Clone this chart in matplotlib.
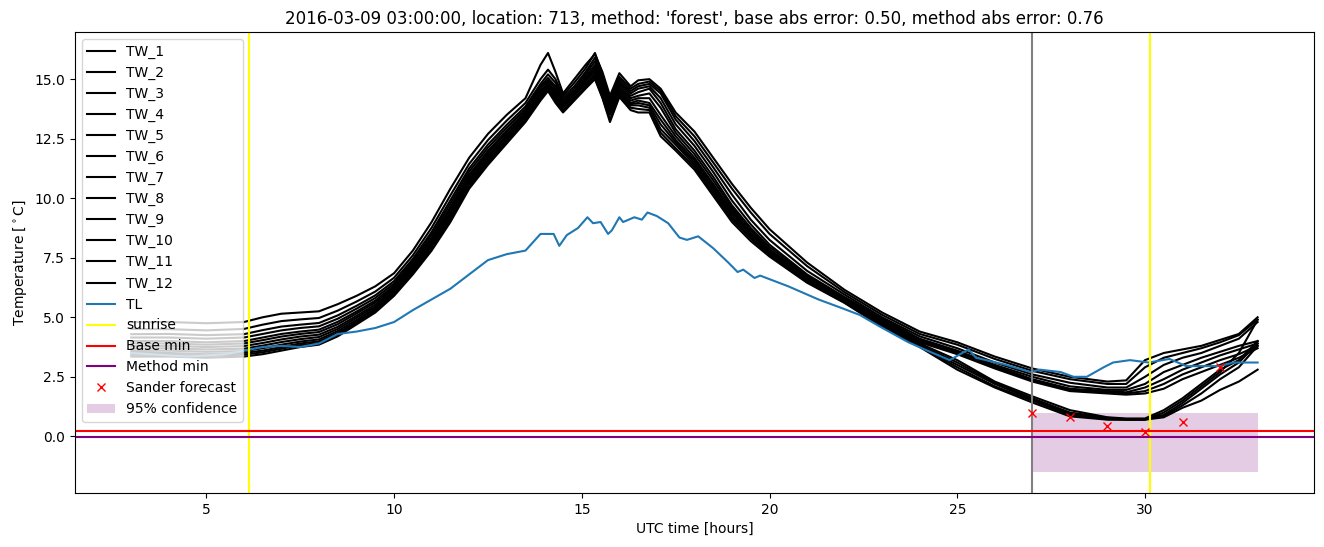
import matplotlib
matplotlib.use("Agg")
import matplotlib.pyplot as plt

# === Data ===
hours = [3, 4, 5, 6, 6.5, 7, 7.5, 8, 8.5, 9, 9.5, 10, 10.5, 11, 11.5, 12, 12.5, 13, 13.5,
         13.9, 14.1, 14.3, 14.5, 14.8, 15.1, 15.35, 15.55, 15.75, 16.0, 16.3, 16.5, 16.8, 17.1, 17.5,
         18, 18.5, 19, 19.5, 20, 21, 22, 23, 24, 25, 26, 27, 28, 29, 29.5, 30, 30.5, 31, 31.5, 32, 32.5, 33]

tw_1 = [4.8, 4.8, 4.75, 4.8, 5.0, 5.15, 5.2, 5.25, 5.55, 5.9, 6.3, 6.85, 7.8, 9.0, 10.4, 11.7, 12.7, 13.5, 14.2,
        15.6, 16.1, 15.3, 14.4, 15.0, 15.6, 16.05, 15.3, 14.3, 15.25, 14.7, 14.95, 15.0, 14.6, 13.6,
        12.8, 11.7, 10.6, 9.6, 8.7, 7.3, 6.15, 5.2, 4.4, 3.95, 3.35, 2.85, 2.5, 2.3, 2.35, 3.2, 3.5, 3.65, 3.8, 4.05, 4.3, 5.0]
tw_2 = [4.51, 4.5, 4.45, 4.51, 4.69, 4.84, 4.91, 4.97, 5.28, 5.66, 6.08, 6.66, 7.6, 8.76, 10.12, 11.44, 12.44, 13.26, 14.0,
        15.0, 15.4, 15.0, 14.3, 14.85, 15.45, 16.1, 15.2, 14.2, 15.1, 14.6, 14.8, 14.9, 14.5, 13.45,
        12.6, 11.5, 10.4, 9.4, 8.5, 7.15, 6.05, 5.1, 4.3, 3.85, 3.25, 2.75, 2.4, 2.2, 2.2, 2.9, 3.3, 3.5, 3.7, 3.95, 4.25, 4.9]
tw_3 = [4.29, 4.3, 4.25, 4.29, 4.46, 4.61, 4.69, 4.76, 5.08, 5.48, 5.92, 6.52, 7.45, 8.58, 9.91, 11.25, 12.25, 13.08, 13.85,
        14.8, 15.2, 14.85, 14.2, 14.7, 15.3, 15.9, 15.0, 14.1, 15.0, 14.5, 14.7, 14.8, 14.4, 13.3,
        12.4, 11.3, 10.15, 9.1, 8.25, 6.95, 5.95, 5.0, 4.2, 3.7, 3.1, 2.6, 2.25, 2.05, 2.05, 2.5, 3.0, 3.3, 3.5, 3.8, 4.1, 4.8]
tw_4 = [4.15, 4.15, 4.1, 4.15, 4.3, 4.45, 4.55, 4.62, 4.94, 5.36, 5.81, 6.42, 7.35, 8.46, 9.77, 11.12, 12.12, 12.96, 13.75,
        14.7, 15.05, 14.7, 14.1, 14.6, 15.2, 15.75, 14.9, 14.0, 14.9, 14.4, 14.6, 14.7, 14.2, 13.1,
        12.2, 11.1, 9.9, 8.9, 8.05, 6.8, 5.85, 4.95, 4.1, 3.6, 3.0, 2.5, 2.1, 1.95, 1.95, 2.2, 2.7, 3.0, 3.3, 3.55, 3.8, 4.0]
tw_5 = [4.0, 4.0, 3.95, 4.0, 4.15, 4.3, 4.4, 4.48, 4.81, 5.24, 5.7, 6.33, 7.25, 8.34, 9.63, 10.99, 11.99, 12.84, 13.65,
        14.6, 14.95, 14.6, 14.0, 14.5, 15.1, 15.6, 14.8, 13.95, 14.8, 14.3, 14.45, 14.6, 14.0, 12.9,
        12.0, 10.9, 9.7, 8.75, 7.95, 6.75, 5.8, 4.9, 4.05, 3.55, 2.95, 2.4, 2.0, 1.9, 1.85, 2.05, 2.4, 2.8, 3.1, 3.4, 3.65, 3.9]
tw_6 = [3.9, 3.9, 3.85, 3.9, 4.04, 4.19, 4.3, 4.38, 4.71, 5.16, 5.62, 6.26, 7.18, 8.26, 9.53, 10.89, 11.89, 12.76, 13.58,
        14.5, 14.85, 14.5, 13.95, 14.45, 15.0, 15.5, 14.7, 13.9, 14.7, 14.2, 14.3, 14.4, 13.8, 12.75,
        11.85, 10.75, 9.6, 8.65, 7.85, 6.7, 5.78, 4.85, 4.0, 3.5, 2.9, 2.35, 1.95, 1.85, 1.8, 1.9, 2.2, 2.6, 2.9, 3.2, 3.45, 3.8]
tw_7 = [3.79, 3.8, 3.75, 3.79, 3.92, 4.07, 4.19, 4.27, 4.6, 5.06, 5.53, 6.19, 7.1, 8.16, 9.42, 10.79, 11.79, 12.66, 13.5,
        14.45, 14.8, 14.4, 13.9, 14.4, 14.95, 15.4, 14.6, 13.8, 14.6, 14.1, 14.2, 14.2, 13.5, 12.6,
        11.7, 10.6, 9.5, 8.55, 7.8, 6.65, 5.75, 4.8, 3.95, 3.45, 2.85, 2.3, 1.9, 1.8, 1.75, 1.8, 2.0, 2.4, 2.7, 3.0, 3.3, 3.7]
tw_8 = [3.68, 3.7, 3.65, 3.68, 3.81, 3.96, 4.08, 4.17, 4.51, 4.98, 5.45, 6.12, 7.03, 8.08, 9.32, 10.7, 11.7, 12.58, 13.43,
        14.4, 14.75, 14.35, 13.85, 14.35, 14.9, 15.3, 14.5, 13.7, 14.5, 14.0, 14.1, 14.0, 13.3, 12.45,
        11.6, 10.5, 9.4, 8.5, 7.75, 6.6, 5.72, 4.75, 3.9, 3.2, 2.3, 1.68, 1.1, 0.8, 0.75, 0.75, 1.1, 1.6, 2.2, 2.8, 3.2, 4.0]
tw_9 = [3.58, 3.6, 3.55, 3.58, 3.7, 3.85, 3.98, 4.07, 4.42, 4.89, 5.38, 6.05, 6.96, 7.99, 9.22, 10.61, 11.61, 12.49, 13.36,
        14.3, 14.7, 14.25, 13.8, 14.3, 14.8, 15.2, 14.4, 13.6, 14.45, 13.95, 14.0, 13.9, 13.1, 12.35,
        11.5, 10.4, 9.3, 8.45, 7.7, 6.55, 5.7, 4.7, 3.85, 3.1, 2.25, 1.6, 1.0, 0.78, 0.72, 0.72, 0.9, 1.4, 2.0, 2.6, 3.1, 3.9]
tw_10 = [3.5, 3.5, 3.45, 3.5, 3.6, 3.75, 3.9, 3.99, 4.34, 4.82, 5.31, 5.99, 6.9, 7.92, 9.14, 10.53, 11.53, 12.42, 13.3,
         14.25, 14.6, 14.15, 13.7, 14.2, 14.7, 15.15, 14.35, 13.5, 14.4, 13.9, 13.9, 13.8, 12.9, 12.25,
         11.4, 10.3, 9.2, 8.35, 7.65, 6.5, 5.65, 4.65, 3.8, 3.0, 2.2, 1.55, 0.95, 0.75, 0.72, 0.72, 0.85, 1.3, 1.8, 2.4, 2.9, 3.8]
tw_11 = [3.43, 3.42, 3.38, 3.43, 3.53, 3.68, 3.83, 3.92, 4.27, 4.76, 5.26, 5.95, 6.85, 7.86, 9.07, 10.47, 11.47, 12.36, 13.25,
         14.2, 14.55, 14.1, 13.65, 14.15, 14.65, 15.05, 14.25, 13.3, 14.3, 13.8, 13.75, 13.7, 12.75, 12.1,
         11.3, 10.2, 9.1, 8.3, 7.6, 6.48, 5.62, 4.62, 3.78, 2.9, 2.1, 1.5, 0.9, 0.72, 0.7, 0.7, 1.0, 1.5, 2.1, 2.7, 3.5, 4.9]
tw_12 = [3.35, 3.35, 3.3, 3.35, 3.45, 3.6, 3.75, 3.85, 4.2, 4.7, 5.2, 5.9, 6.8, 7.8, 9.0, 10.4, 11.4, 12.3, 13.2,
         14.1, 14.5, 14.0, 13.6, 14.1, 14.6, 15.0, 14.2, 13.2, 14.25, 13.7, 13.6, 13.6, 12.6, 12.0,
         11.2, 10.1, 9.0, 8.2, 7.55, 6.45, 5.6, 4.6, 3.75, 2.8, 2.05, 1.42, 0.84, 0.7, 0.7, 0.7, 0.8, 1.2, 1.5, 1.95, 2.3, 2.8]
tw_series = [tw_1, tw_2, tw_3, tw_4, tw_5, tw_6, tw_7, tw_8, tw_9, tw_10, tw_11, tw_12]
tw_labels = [f"TW_{i}" for i in range(1, 13)]

tl_hours = [3, 3.5, 4, 4.5, 5, 5.5, 6, 6.5, 7, 7.5, 8, 8.5, 9, 9.5, 10, 10.5, 11, 11.5, 12, 12.5, 13, 13.5,
            13.9, 14.25, 14.4, 14.6, 14.9, 15.15, 15.3, 15.5, 15.7, 15.8, 16.0, 16.1, 16.4, 16.6, 16.75, 17.0,
            17.3, 17.6, 17.8, 18.1, 18.5, 18.9, 19.15, 19.3, 19.6, 19.75, 20.5, 21.3, 21.9, 22.4, 22.95, 23.7,
            24.2, 24.8, 25.3, 25.5, 26.3, 26.95, 27.2, 27.75, 28.1, 28.45, 28.9, 29.15, 29.6, 30.1, 30.65,
            31.1, 31.5, 32.0, 32.35, 32.9, 33]
tl = [3.5, 3.45, 3.4, 3.35, 3.4, 3.45, 3.6, 3.75, 3.8, 3.75, 3.9, 4.3, 4.4, 4.55, 4.8, 5.3, 5.75, 6.2, 6.8, 7.4, 7.65, 7.8,
      8.5, 8.5, 8.0, 8.45, 8.75, 9.2, 8.95, 9.0, 8.5, 8.65, 9.2, 9.0, 9.2, 9.1, 9.4, 9.25,
      8.95, 8.35, 8.25, 8.4, 7.9, 7.3, 6.9, 7.0, 6.65, 6.75, 6.3, 5.75, 5.4, 5.1, 4.6, 3.95,
      3.6, 3.2, 3.65, 3.3, 3.0, 2.7, 2.8, 2.7, 2.5, 2.5, 2.9, 3.1, 3.2, 3.1, 3.25,
      2.95, 2.95, 2.95, 3.1, 3.1, 3.1]

sunrise_hours = [6.13, 30.13]
forecast_start = 27.0
base_min = 0.21
method_min = -0.03

sander_hours = [27, 28, 29, 30, 31, 32]
sander_temp = [0.99, 0.82, 0.43, 0.2, 0.61, 2.93]

conf_hours = [27, 33]
conf_lower = [-1.5, -1.5]
conf_upper = [0.97, 0.97]

title = ("2016-03-09 03:00:00, location: 713, method: 'forest', "
         "base abs error: 0.50, method abs error: 0.76")

# === Plot ===
fig = plt.figure(figsize=(13.24, 5.47), dpi=100)
ax = fig.add_axes([0.0566, 0.0987, 0.9358, 0.8428])

for values, label in zip(tw_series, tw_labels):
    ax.plot(hours, values, color="black", label=label)
ax.plot(tl_hours, tl, color="C0", label="TL")

ax.axvline(sunrise_hours[0], color="yellow", label="sunrise")
ax.axvline(sunrise_hours[1], color="yellow")
ax.axvline(forecast_start, color="gray")
ax.axhline(base_min, color="red", label="Base min")
ax.axhline(method_min, color="purple", label="Method min")
ax.plot(sander_hours, sander_temp, "rx", label="Sander forecast")
ax.fill_between(conf_hours, conf_lower, conf_upper, color="purple", alpha=0.2,
                linewidth=0, label="95% confidence")

ax.set_title(title)
ax.set_xlabel("UTC time [hours]")
ax.set_ylabel(r"Temperature [$^\circ$C]")
ax.legend(loc="upper left")

fig.savefig("out.png", dpi=100)
